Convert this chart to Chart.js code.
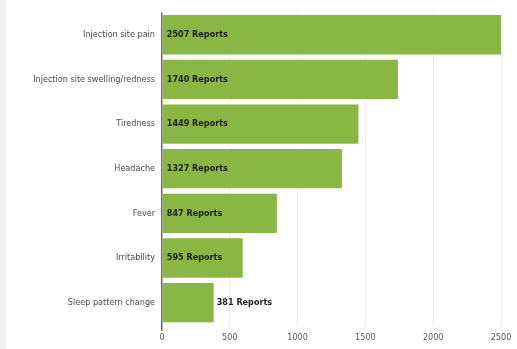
<!DOCTYPE html>
<html>
<head>
<meta charset="utf-8">
<script src="https://cdn.jsdelivr.net/npm/chart.js@4/dist/chart.umd.min.js"></script>
<style>
  html, body { margin: 0; padding: 0; background: #fff; }
  #wrap { width: 511px; height: 349px; border-left: 6px solid #f1f1f1; }
</style>
</head>
<body>
<div id="wrap"><canvas id="myChart" width="511" height="349"></canvas></div>
<script>
// symptom categories and report counts
const symptoms = ['Injection site pain', 'Injection site swelling/redness', 'Tiredness', 'Headache', 'Fever', 'Irritability', 'Sleep pattern change'];
const reports = [2507, 1740, 1449, 1327, 847, 595, 381];
const xTicks = [0, 500, 1000, 1500, 2000, 2500];

const labelFont = '"Liberation Sans Narrow", "DejaVu Sans Condensed", sans-serif';

// draws "N Reports" at the start of each bar (outside if it does not fit)
const reportLabels = {
    id: 'reportLabels',
    afterDatasetsDraw(chart) {
        const ctx = chart.ctx;
        const meta = chart.getDatasetMeta(0);
        ctx.save();
        ctx.font = 'bold 9px ' + labelFont;
        ctx.fillStyle = '#1e1e1e';
        ctx.textBaseline = 'middle';
        ctx.textAlign = 'left';
        meta.data.forEach(function(bar, i) {
            const text = reports[i] + ' Reports';
            const w = ctx.measureText(text).width;
            let x = bar.base + 4;
            if (w + 8 > bar.x - bar.base) x = bar.x + 3;
            ctx.fillText(text, x, bar.y);
        });
        ctx.restore();
    }
};

const canvas = document.getElementById('myChart');
const myChart = new Chart(canvas, {
    type: 'bar',
    data: {
        labels: symptoms,
        datasets: [{
            label: 'Reports',
            data: reports,
            backgroundColor: '#8ab743',
            borderWidth: 0,
            categoryPercentage: 0.88,
            barPercentage: 1
        }]
    },
    options: {
        indexAxis: 'y',
        responsive: false,
        animation: false,
        layout: { padding: { top: 9, right: 16, bottom: 0, left: 0 } },
        plugins: {
            legend: { display: false },
            tooltip: { enabled: false }
        },
        scales: {
            x: {
                min: 0,
                max: 2500,
                afterBuildTicks(axis) {
                    axis.ticks = xTicks.map(v => ({ value: v }));
                },
                afterFit(axis) { axis.height = 24; },
                grid: {
                    color: ctx => ctx.tick && ctx.tick.value === 0 ? '#6a6a6a' : '#ebebeb',
                    tickColor: ctx => ctx.tick && ctx.tick.value === 0 ? '#6a6a6a' : 'rgba(0,0,0,0)',
                    tickLength: 6,
                    lineWidth: ctx => ctx.tick && ctx.tick.value === 0 ? 1.5 : 1
                },
                border: { display: false },
                ticks: {
                    padding: 1,
                    color: '#5a5a5a',
                    font: { family: labelFont, size: 9 },
                    callback: v => String(v)
                }
            },
            y: {
                afterFit(axis) { axis.width = 156; },
                grid: { display: false, drawTicks: false },
                border: { display: false },
                ticks: {
                    padding: 7,
                    color: '#4a4a4a',
                    font: { family: labelFont, size: 9 }
                }
            }
        }
    },
    plugins: [reportLabels]
});
</script>
</body>
</html>
